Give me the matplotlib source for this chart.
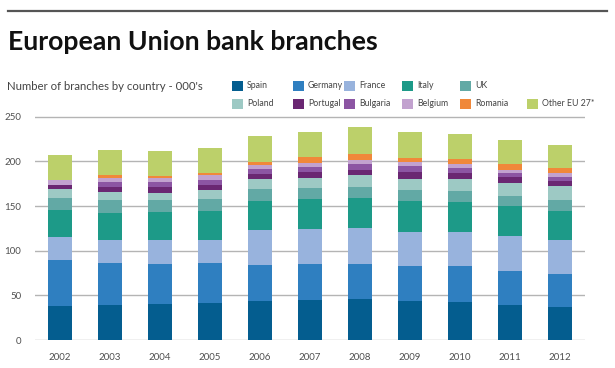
import numpy as np
import matplotlib
matplotlib.use("Agg")
import matplotlib.pyplot as plt
from matplotlib.patches import Rectangle
from matplotlib.lines import Line2D

years = ["2002", "2003", "2004", "2005", "2006", "2007",
         "2008", "2009", "2010", "2011", "2012"]

countries = ["Spain", "Germany", "France", "Italy", "UK",
             "Poland", "Portugal", "Bulgaria", "Belgium", "Romania", "Other EU 27*"]

# branches, thousands
spain    = [38.5, 39.2, 40.3, 41.8, 43.3, 44.8, 45.9, 44.0, 42.9, 39.6, 37.3]
germany  = [51.1, 47.4, 45.1, 44.0, 40.3, 39.9, 39.2, 39.2, 39.6, 38.0, 36.6]
france   = [25.4, 25.4, 26.6, 26.5, 39.9, 39.2, 39.9, 38.1, 38.4, 38.8, 38.4]
italy    = [30.0, 30.5, 30.9, 31.7, 32.1, 33.4, 34.3, 34.3, 33.6, 33.2, 32.5]
uk       = [14.5, 14.4, 13.3, 13.7, 12.9, 12.5, 12.0, 12.3, 12.3, 12.0, 11.9]
poland   = [9.2, 8.7, 8.8, 9.8, 11.2, 11.7, 12.9, 12.7, 13.8, 14.7, 15.7]
portugal = [5.3, 5.4, 5.9, 6.0, 5.7, 6.2, 6.6, 7.1, 6.4, 6.7, 6.0]
bulgaria = [0.0, 5.5, 5.6, 5.5, 6.0, 6.1, 6.2, 6.7, 5.8, 3.8, 4.4]
belgium  = [5.5, 5.3, 4.8, 5.3, 4.5, 4.5, 4.5, 4.5, 3.8, 3.3, 3.8]
romania  = [0.0, 3.1, 2.7, 2.6, 3.4, 6.4, 6.9, 5.2, 6.2, 6.7, 5.6]
other    = [28.0, 27.4, 27.2, 28.1, 29.1, 28.5, 29.6, 29.1, 27.8, 27.1, 26.1]

series = [spain, germany, france, italy, uk, poland, portugal,
          bulgaria, belgium, romania, other]

colors = ["#045d8f", "#2f7fc0", "#98b3dd", "#1d9a88", "#62a9a5",
          "#9dc9c4", "#6a2772", "#8c55a3", "#c2a2cf", "#f0883a", "#bcd06a"]

plt.rcParams["font.family"] = ["Lato", "DejaVu Sans"]

W, H = 615, 368
fig = plt.figure(figsize=(W / 100, H / 100), dpi=100)

# axes placed in pixel terms
ax_left, ax_right = 35, 585
y0_px, per_unit = 340, 0.8933
ymax = 252
ax_top = y0_px - ymax * per_unit
ax = fig.add_axes([ax_left / W, 1 - y0_px / H,
                   (ax_right - ax_left) / W, (y0_px - ax_top) / H])

x = np.arange(len(years))
bottom = np.zeros(len(years))
for vals, col in zip(series, colors):
    vals = np.array(vals)
    ax.bar(x, vals, width=0.48, bottom=bottom, color=col, linewidth=0, zorder=3)
    bottom += vals

ax.set_xlim(-0.49, len(years) - 1 + 0.51)
ax.set_ylim(0, ymax)
ax.set_yticks(np.arange(0, 251, 50))
ax.set_xticks(x)
ax.set_xticklabels(years)
ax.grid(axis="y", color="#b4b4b4", linewidth=1.0, zorder=0)
for s in ax.spines.values():
    s.set_visible(False)
ax.tick_params(length=0, labelsize=7.0, labelcolor="#505050")
ax.tick_params(axis="y", pad=10)
ax.tick_params(axis="x", pad=9)

# top rule
fig.add_artist(Line2D([8 / W, 607 / W], [1 - 11 / H, 1 - 11 / H],
                      color="#555555", linewidth=1.6))

fig.text(8 / W, 1 - 49.5 / H, "European Union bank branches",
         fontsize=19.2, fontweight="bold", color="#111111", va="baseline")
fig.text(7 / W, 1 - 89.5 / H, "Number of branches by country - 000's",
         fontsize=8.2, color="#444444", va="baseline")

# legend, two rows
col_x = [232, 293, 344, 402, 460, 527]
row_y = [86, 104]
slots = [(0, 0), (0, 1), (0, 2), (0, 3), (0, 4),
         (1, 0), (1, 1), (1, 2), (1, 3), (1, 4), (1, 5)]
for name, col, (r, c) in zip(countries, colors, slots):
    px, py = col_x[c], row_y[r]
    fig.add_artist(Rectangle((px / W, 1 - (py + 5) / H), 11 / W, 10 / H,
                             transform=fig.transFigure, facecolor=col,
                             edgecolor="none"))
    fig.text((px + 15) / W, 1 - py / H, name, fontsize=6.3,
             color="#444444", va="center")

fig.savefig("out.png", dpi=100)
